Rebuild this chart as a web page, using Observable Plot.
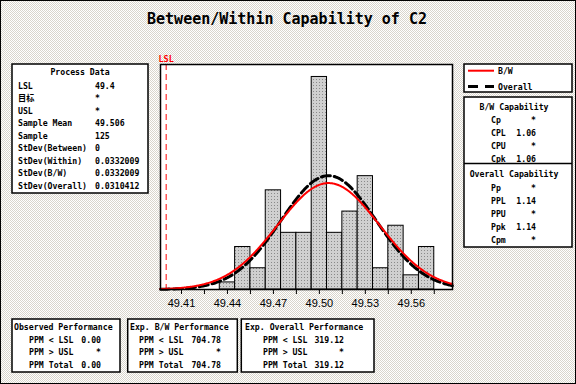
<!DOCTYPE html>
<html><head><meta charset="utf-8">
<script src="https://cdn.jsdelivr.net/npm/d3@7"></script>
<script src="https://cdn.jsdelivr.net/npm/@observablehq/plot@0.6"></script>
<style>
html,body{margin:0;padding:0;}
#wrap{position:relative;width:576px;height:384px;overflow:hidden;background-color:#fff;
background-image:conic-gradient(#fff 25%, #d9d5cc 0 50%, #fff 0 75%, #d9d5cc 0);background-size:2px 2px;}
#wrap svg{position:absolute;left:0;top:0;}
</style></head>
<body><div id="wrap"></div>
<script>
// ---- data ----
const binCenters = [49.44,49.45,49.46,49.47,49.48,49.49,49.50,49.51,49.52,49.53,49.54,49.55,49.56,49.57];
const counts     = [1,6,3,14,8,8,30,8,11,16,3,9,2,6];
const binWidth = 0.01;
const lsl = 49.4;
const sampleMean = 49.506;
const sampleN = 125;
const sdWithin = 0.0332009;   // B/W
const sdOverall = 0.0310412;
const majorTicks = [49.41,49.44,49.47,49.50,49.53,49.56];
const minorTicks = [49.41,49.425,49.44,49.455,49.47,49.485,49.50,49.515,49.53,49.545,49.56,49.575];

const processLabels = ["LSL","目标","USL","Sample Mean","Sample","StDev(Between)","StDev(Within)","StDev(B/W)","StDev(Overall)"];
const processValues = ["49.4","*","*","49.506","125","0","0.0332009","0.0332009","0.0310412"];
const bwCapLabels = ["Cp","CPL","CPU","Cpk"];
const bwCapValues = ["*","1.06","*","1.06"];
const ovCapLabels = ["Pp","PPL","PPU","Ppk","Cpm"];
const ovCapValues = ["*","1.14","*","1.14","*"];
const perfLabels = ["PPM < LSL","PPM > USL","PPM Total"];
const observedPerf = ["0.00","*","0.00"];
const bwPerf = ["704.78","*","704.78"];
const overallPerf = ["319.12","*","319.12"];

// ---- derived ----
const bins = binCenters.map((c,i)=>({x1:c-binWidth/2,x2:c+binWidth/2,count:counts[i]}));
const xDomain = [49.3963, 49.5869];
const grid = d3.range(xDomain[0], xDomain[1]+0.0001, 0.0005);
const normal = (x,m,s)=> sampleN*binWidth*Math.exp(-0.5*((x-m)/s)**2)/(s*Math.sqrt(2*Math.PI));
const bwCurve = grid.map(x=>({x, y: normal(x,sampleMean,sdWithin)}));
const ovCurve = grid.map(x=>({x, y: normal(x,sampleMean,sdOverall)}));

const mono = "DejaVu Sans Mono, Noto Sans CJK SC, monospace";
const fs = 8.2;

const chart = Plot.plot({
  width: 576, height: 384,
  marginLeft: 160, marginRight: 124, marginTop: 64, marginBottom: 95,
  x: {domain: xDomain},
  y: {domain: [0, 31.76], axis: null},
  style: {background: "transparent", overflow: "visible", fontFamily: "Liberation Sans, Arial, sans-serif", fontSize: "11px", color: "black"},
  marks: [
    Plot.frame({fill: "white", stroke: null}),
    Plot.rectY(bins, {x1: "x1", x2: "x2", y: "count", fill: "url(#dots)", stroke: "black", strokeWidth: 1}),
    Plot.ruleX([lsl], {stroke: "#ff0000", strokeWidth: 1, strokeDasharray: "6,4"}),
    Plot.line(ovCurve, {x: "x", y: "y", stroke: "black", strokeWidth: 3, strokeDasharray: "9,4"}),
    Plot.line(bwCurve, {x: "x", y: "y", stroke: "#ff0000", strokeWidth: 2}),
    Plot.frame({stroke: "black", strokeWidth: 1.5}),
    Plot.axisX({ticks: minorTicks, tickSize: 5, tickPadding: 5,
      tickFormat: d => majorTicks.some(m => Math.abs(m-d) < 1e-6) ? d.toFixed(2) : ""}),
    Plot.text([lsl], {x: d=>d, frameAnchor: "top", dy: -3, lineAnchor: "bottom", text: () => "LSL",
      fill: "#ff0000", fontFamily: mono, fontSize: 8.5, fontWeight: "bold"})
  ]
});

const svg = d3.select(chart);
const defs = svg.insert("defs", ":first-child");
const pat = defs.append("pattern").attr("id","dots").attr("width",3).attr("height",3).attr("patternUnits","userSpaceOnUse");
pat.append("rect").attr("width",3).attr("height",3).attr("fill","#d0d0d0");
pat.append("rect").attr("x",1).attr("y",1).attr("width",1).attr("height",1).attr("fill","#8a8a8a");

const g = svg.append("g").attr("font-family", mono).attr("font-size", fs).attr("font-weight","bold").attr("fill","black");
function box(x1,y1,x2,y2){
  g.append("rect").attr("x",x1).attr("y",y1).attr("width",x2-x1).attr("height",y2-y1)
   .attr("fill","white").attr("stroke","black").attr("stroke-width",1.5);
}
function txt(x,yc,s,anchor="start",color="black"){
  g.append("text").attr("x",x).attr("y",yc+3).attr("text-anchor",anchor).attr("fill",color).text(s);
}

// Title
svg.append("text").attr("x",287).attr("y",24).attr("text-anchor","middle")
  .attr("font-family",mono).attr("font-weight","bold").attr("font-size",15)
  .text("Between/Within Capability of C2");

// Process data box
box(12,64,148,193);
txt(80,72,"Process Data","middle");
processLabels.forEach((l,i)=>{ const y=85.5+i*12.55; txt(18,y,l); txt(95,y,processValues[i]); });

// Legend box
box(464,64,572,92);
g.append("line").attr("x1",468).attr("x2",494).attr("y1",70.7).attr("y2",70.7).attr("stroke","#ff0000").attr("stroke-width",2);
txt(498,70.7,"B/W");
g.append("line").attr("x1",468).attr("x2",494).attr("y1",86.5).attr("y2",86.5).attr("stroke","black").attr("stroke-width",3).attr("stroke-dasharray","10,7");
txt(498,86.5,"Overall");

// Capability box
box(464,97,572,247);
g.append("line").attr("x1",464).attr("x2",572).attr("y1",163.5).attr("y2",163.5).attr("stroke","black").attr("stroke-width",1.5);
txt(514,107.3,"B/W Capability","middle");
bwCapLabels.forEach((l,i)=>{ const y=119.5+i*13.1; txt(491,y,l); txt(536,y,bwCapValues[i],"end"); });
txt(514,174,"Overall Capability","middle");
ovCapLabels.forEach((l,i)=>{ const y=188.3+i*13; txt(491,y,l); txt(536,y,ovCapValues[i],"end"); });

// Performance boxes
const perf = [
  {x1:12,x2:120,tx:14,lx:29,vx:101,title:"Observed Performance",vals:observedPerf},
  {x1:127.7,x2:237.3,tx:130,lx:139,vx:221,title:"Exp. B/W Performance",vals:bwPerf},
  {x1:241.3,x2:374,tx:245,lx:263,vx:344,title:"Exp. Overall Performance",vals:overallPerf}
];
perf.forEach(p=>{
  box(p.x1,319,p.x2,372);
  txt(p.tx,326.7,p.title);
  perfLabels.forEach((l,i)=>{ const y=339.5+i*12.5; txt(p.lx,y,l); txt(p.vx,y,p.vals[i],"end"); });
});

// outer border
svg.append("rect").attr("x",0.5).attr("y",0.5).attr("width",575).attr("height",383)
  .attr("fill","none").attr("stroke","black").attr("stroke-width",1);

document.getElementById("wrap").appendChild(chart);
</script></body></html>
